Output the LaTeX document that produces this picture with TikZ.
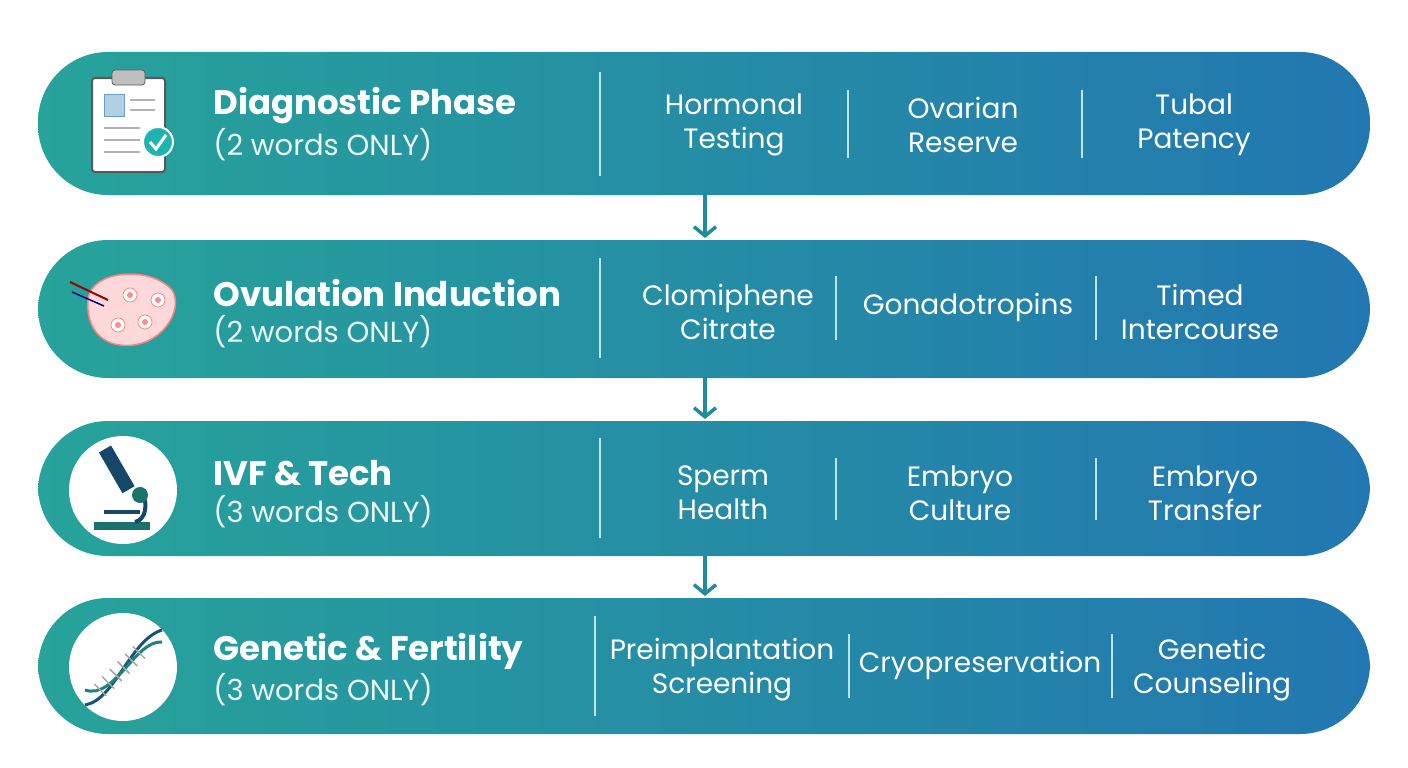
\documentclass[tikz,border=0pt]{standalone}
\usepackage{fontspec}
\setmainfont{Poppins}
\usetikzlibrary{positioning,arrows.meta,calc}
\definecolor{tealL}{HTML}{27A39A}
\definecolor{blueR}{HTML}{2277B0}
\definecolor{arrowC}{HTML}{1E8C9E}
\tikzset{every picture/.style={line width=0.75pt}}
\tikzset{
  pill/.style={rounded corners=70pt, left color=tealL, right color=blueR, draw=none},
  ttl/.style={anchor=west, text=white, font=\fontsize{34}{38}\selectfont\bfseries, inner sep=0pt},
  sub/.style={anchor=west, text=white!92!teal, font=\fontsize{29}{32}\selectfont, inner sep=0pt},
  item/.style={text=white, font=\fontsize{28}{34}\selectfont, align=center, inner sep=0pt},
  sep/.style={draw=white!70!tealL, line width=1.2pt},
  flow/.style={draw=arrowC, line width=3.5pt, -{Straight Barb[length=9pt,width=22pt]}},
  iconbg/.style={circle, fill=white, minimum size=108pt, inner sep=0pt}
}
\begin{document}
\begin{tikzpicture}[x=1pt,y=1pt,yscale=-1]
\useasboundingbox (0,0) rectangle (1408,768);
% rows
\path[pill] (38,52) rectangle (1370,195);
\path[pill] (38,240) rectangle (1370,378);
\path[pill] (38,421) rectangle (1370,556);
\path[pill] (38,598) rectangle (1370,734);
% anchors for arrows
\coordinate (r1b) at (705,195);
\coordinate (r2t) at (705,240);
\coordinate (r2b) at (705,378);
\coordinate (r3t) at (705,421);
\coordinate (r3b) at (705,556);
\coordinate (r4t) at (705,598);
\draw[flow] ([yshift=-2pt]r1b) -- ([yshift=-2pt]r2t);
\draw[flow] ([yshift=-2pt]r2b) -- ([yshift=-2pt]r3t);
\draw[flow] ([yshift=-2pt]r3b) -- ([yshift=-2pt]r4t);

% Row 1
\node[ttl] (t1) at (213,106) {Diagnostic Phase};
\node[sub] (s1) at (213,145) {(2 words ONLY)};
\draw[sep] (600,72) -- (600,176);
\draw[sep] (848,90) -- (848,158);
\draw[sep] (1082,90) -- (1082,158);
\node[item] (a1) at (734,125) {Hormonal\\Testing};
\node[item] (b1) at (963,125) {Ovarian\\Reserve};
\node[item] (c1) at (1194,125) {Tubal\\Patency};
% clipboard icon
\draw[fill=white, draw=gray!70!black, line width=2pt, rounded corners=3pt] (92,78) rectangle (165,172);
\draw[fill=gray!50, draw=gray!70!black, rounded corners=3pt] (112,70) rectangle (145,85);
\draw[fill=blueR!35, draw=blueR!70] (104,94) rectangle (124,116);
\foreach \yy in {100,110} \draw[gray!60, line width=2.5pt] (130,\yy) -- (155,\yy);
\foreach \yy in {128,140,152} \draw[gray!60, line width=2.5pt] (104,\yy) -- (140,\yy);
\node[circle, fill=tealL!80!cyan, minimum size=30pt, draw=white, line width=2pt] (ck) at (158,142) {};
\draw[white, line width=3pt] (150,142) -- (156,149) -- (166,135);

% Row 2
\node[ttl] (t2) at (213,293) {Ovulation Induction};
\node[sub] (s2) at (213,332) {(2 words ONLY)};
\draw[sep] (600,258) -- (600,358);
\draw[sep] (836,276) -- (836,340);
\draw[sep] (1096,276) -- (1096,340);
\node[item] (a2) at (728,312) {Clomiphene\\Citrate};
\node[item] (b2) at (968,307) {Gonadotropins};
\node[item] (c2) at (1200,312) {Timed\\Intercourse};
% ovary icon
\draw[fill=red!15, draw=red!50, line width=1.5pt] (88,300) .. controls (90,270) and (150,265) .. (172,290) .. controls (185,310) and (160,350) .. (120,345) .. controls (95,342) and (86,320) .. (88,300) -- cycle;
\draw[red!60!black, line width=2pt] (70,282) -- (108,300);
\draw[blue!50!black, line width=1.5pt] (72,292) -- (104,306);
\foreach \px/\py in {118/325,145/322,158/300,130/295}
  \draw[fill=white, draw=red!50] (\px,\py) circle (7pt);
\foreach \px/\py in {118/325,145/322,158/300,130/295}
  \fill[red!45] (\px,\py) circle (3pt);

% Row 3
\node[ttl] (t3) at (213,473) {IVF \& Tech};
\node[sub] (s3) at (213,512) {(3 words ONLY)};
\draw[sep] (600,438) -- (600,538);
\draw[sep] (836,458) -- (836,520);
\draw[sep] (1096,458) -- (1096,520);
\node[item] (a3) at (723,493) {Sperm\\Health};
\node[item] (b3) at (960,493) {Embryo\\Culture};
\node[item] (c3) at (1205,493) {Embryo\\Transfer};
\node[iconbg] (i3) at (123,490) {};
\draw[fill=tealL!70!black, draw=none] (94,522) rectangle (150,530);
\draw[fill=blueR!60!black, draw=none, rotate around={-30:(120,475)}] (113,445) rectangle (127,492);
\draw[blueR!60!black, line width=4pt] (104,512) -- (140,512);
\draw[blueR!60!black, line width=4pt] (140,488) .. controls (150,505) and (145,520) .. (135,522);
\fill[tealL!70!black] (140,495) circle (8pt);

% Row 4
\node[ttl] (t4) at (213,651) {Genetic \& Fertility};
\node[sub] (s4) at (213,690) {(3 words ONLY)};
\draw[sep] (595,616) -- (595,716);
\draw[sep] (849,634) -- (849,698);
\draw[sep] (1112,634) -- (1112,698);
\node[item] (a4) at (722,670) {Preimplantation\\Screening};
\node[item] (b4) at (980,665) {Cryopreservation};
\node[item] (c4) at (1212,670) {Genetic\\Counseling};
\node[iconbg] (i4) at (123,667) {};
\draw[blueR!70!black, line width=3pt] (85,705) .. controls (115,700) and (130,640) .. (162,630);
\draw[tealL!80!black, line width=3pt] (85,690) .. controls (115,700) and (135,640) .. (162,642);
\foreach \k in {0.2,0.3,...,0.8}
  \draw[gray!70, line width=1.5pt] ($(85,705)!\k!(162,630)$) ++(-6,-6) -- ++(12,12);
\end{tikzpicture}
\end{document}
